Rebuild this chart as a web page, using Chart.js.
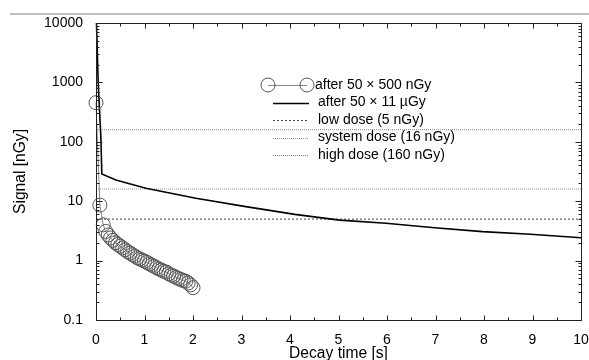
<!DOCTYPE html>
<html>
<head>
<meta charset="utf-8">
<script src="https://cdn.jsdelivr.net/npm/chart.js@4.4.1/dist/chart.umd.min.js"></script>
<style>
  html, body { margin: 0; padding: 0; background: #fff; }
  #wrap { width: 589px; height: 360px; position: relative; }
</style>
</head>
<body>
<div id="wrap"><canvas id="c" width="589" height="360"></canvas></div>
<script>
// ---- data ----
const seriesLabels = ['after 50 \u00d7 500 nGy', 'after 50 \u00d7 11 \u00b5Gy', 'low dose (5 nGy)', 'system dose (16 nGy)', 'high dose (160 nGy)'];

const timeSmallDose = [0, 0.08, 0.15, 0.2, 0.25, 0.3, 0.35, 0.4, 0.45, 0.5, 0.55, 0.6, 0.65, 0.7, 0.75, 0.8, 0.85, 0.9, 0.95, 1.0, 1.05, 1.1, 1.15, 1.2, 1.25, 1.3, 1.35, 1.4, 1.45, 1.5, 1.55, 1.6, 1.65, 1.7, 1.75, 1.8, 1.85, 1.9, 1.95, 2.0];
const signalSmallDose = [455, 8.6, 4.0, 3.1, 2.7, 2.4, 2.2, 2.0, 1.87, 1.75, 1.63, 1.52, 1.42, 1.34, 1.26, 1.19, 1.12, 1.07, 1.02, 0.98, 0.93, 0.88, 0.84, 0.8, 0.76, 0.72, 0.69, 0.66, 0.64, 0.6, 0.57, 0.55, 0.52, 0.5, 0.48, 0.46, 0.45, 0.42, 0.39, 0.35];

const timeLargeDose = [0.01, 0.045, 0.1, 0.12, 0.41, 1.03, 2.06, 3.09, 4.1, 5.02, 5.98, 6.98, 7.97, 8.96, 10];
const signalLargeDose = [10000, 1000, 120, 28.7, 22.7, 16.5, 11.2, 8.1, 6.0, 4.8, 4.25, 3.58, 3.07, 2.77, 2.43];

const referenceTimes = [0, 10];
const lowDose = [5, 5];
const systemDose = [16, 16];
const highDose = [160, 160];

const yTickLabels = ['0.1', '1', '10', '100', '1000', '10000'];
const xTickLabels = ['0', '1', '2', '3', '4', '5', '6', '7', '8', '9', '10'];

const xTitle = 'Decay time [s]';
const yTitle = 'Signal [nGy]';

// ---- build datasets ----
function pts(xs, ys) { return xs.map((x, i) => ({ x: x, y: ys[i] })); }

const FONT = '"Liberation Sans", Arial, Helvetica, sans-serif';

const datasets = [
  { label: seriesLabels[0], data: pts(timeSmallDose, signalSmallDose), borderColor: '#888', borderWidth: 1,
    pointStyle: 'circle', pointRadius: 7, pointBorderColor: '#555', pointBorderWidth: 1,
    pointBackgroundColor: 'rgba(0,0,0,0)', backgroundColor: 'rgba(0,0,0,0)', clip: false },
  { label: seriesLabels[1], data: pts(timeLargeDose, signalLargeDose), borderColor: '#000', borderWidth: 1.6,
    pointRadius: 0, clip: false },
  { label: seriesLabels[2], data: pts(referenceTimes, lowDose), borderColor: '#444', borderWidth: 1,
    borderDash: [2, 2], pointRadius: 0 },
  { label: seriesLabels[3], data: pts(referenceTimes, systemDose), borderColor: '#999', borderWidth: 1,
    borderDash: [1, 1], pointRadius: 0 },
  { label: seriesLabels[4], data: pts(referenceTimes, highDose), borderColor: '#888', borderWidth: 1,
    borderDash: [1, 1], pointRadius: 0 }
];

// ---- frame, inward ticks, legend, top rule ----
const decorPlugin = {
  id: 'decor',
  afterDraw(chart) {
    const ctx = chart.ctx;
    const a = chart.chartArea;
    const xs = chart.scales.x, ys = chart.scales.y;
    ctx.save();
    // grey rule at top
    ctx.strokeStyle = '#aaa';
    ctx.lineWidth = 1.5;
    ctx.beginPath(); ctx.moveTo(10, 14); ctx.lineTo(589, 14); ctx.stroke();

    // frame
    ctx.strokeStyle = '#222';
    ctx.lineWidth = 1;
    ctx.strokeRect(Math.round(a.left) + 0.5, Math.round(a.top) + 0.5,
                   Math.round(a.right - a.left), Math.round(a.bottom - a.top));
    const L = Math.round(a.left) + 0.5, R = Math.round(a.right) + 0.5;
    const T = Math.round(a.top) + 0.5, B = Math.round(a.bottom) + 0.5;
    ctx.beginPath();
    // x ticks
    for (let i = 0; i <= 20; i++) {
      const v = i / 2;
      const len = (i % 2 === 0) ? 5 : 3;
      const px = Math.round(xs.getPixelForValue(v)) + 0.5;
      ctx.moveTo(px, B); ctx.lineTo(px, B - len);
      ctx.moveTo(px, T); ctx.lineTo(px, T + len);
    }
    // y ticks (log)
    for (let e = -1; e <= 4; e++) {
      for (let m = 1; m <= 9; m++) {
        const v = m * Math.pow(10, e);
        if (v > 10000) break;
        const len = (m === 1) ? 6 : 3;
        const py = Math.round(ys.getPixelForValue(v)) + 0.5;
        ctx.moveTo(L, py); ctx.lineTo(L + len, py);
        ctx.moveTo(R, py); ctx.lineTo(R - len, py);
      }
    }
    ctx.stroke();

    // legend
    const rows = [85, 102.5, 120, 137.5, 155];
    ctx.font = '14px ' + FONT;
    ctx.textBaseline = 'middle';
    ctx.fillStyle = '#000';
    chart.data.datasets.forEach((ds, i) => {
      const y = rows[i];
      ctx.save();
      ctx.strokeStyle = ds.borderColor;
      ctx.lineWidth = ds.borderWidth;
      ctx.setLineDash(ds.borderDash || []);
      ctx.beginPath();
      if (i === 0) {
        ctx.moveTo(268, Math.round(y) + 0.5); ctx.lineTo(307, Math.round(y) + 0.5);
        ctx.stroke();
        ctx.strokeStyle = ds.pointBorderColor;
        ctx.beginPath(); ctx.arc(268, y, 7, 0, Math.PI * 2); ctx.stroke();
        ctx.beginPath(); ctx.arc(307, y, 7, 0, Math.PI * 2); ctx.stroke();
      } else {
        ctx.moveTo(273, Math.round(y) + 0.5); ctx.lineTo(309, Math.round(y) + 0.5);
        ctx.stroke();
      }
      ctx.restore();
      ctx.fillText(ds.label, i === 0 ? 315 : 318, y);
    });
    ctx.restore();
  }
};

new Chart(document.getElementById('c'), {
  type: 'line',
  data: { datasets: datasets },
  plugins: [decorPlugin],
  options: {
    responsive: false,
    animation: false,
    devicePixelRatio: 1,
    layout: { padding: { left: 0, right: 7, top: 23, bottom: 0 } },
    plugins: { legend: { display: false }, tooltip: { enabled: false } },
    elements: { line: { tension: 0 } },
    scales: {
      x: {
        type: 'linear', min: 0, max: 10,
        grid: { display: false },
        border: { display: false },
        ticks: {
          stepSize: 1, padding: 4, color: '#000', font: { family: FONT, size: 14 },
          maxRotation: 0, autoSkip: false,
          callback: (v) => xTickLabels[Math.round(v)] ?? ''
        },
        title: { display: true, text: xTitle, color: '#000', font: { family: FONT, size: 15.6 }, padding: { top: 0, bottom: -3 } },
        afterFit(scale) { scale.height = 40; scale.paddingLeft = 0; scale.paddingRight = 0; }
      },
      y: {
        type: 'logarithmic', min: 0.1, max: 10000,
        grid: { display: false },
        border: { display: false },
        ticks: {
          padding: 5, color: '#000', font: { family: FONT, size: 14 }, autoSkip: false,
          callback: (v) => {
            const e = Math.log10(v);
            if (Math.abs(e - Math.round(e)) < 1e-9) return yTickLabels[Math.round(e) + 1] ?? '';
            return '';
          }
        },
        title: { display: true, text: yTitle, color: '#000', font: { family: FONT, size: 15.6 }, padding: { top: 11, bottom: 0 } },
        afterFit(scale) { scale.width = 96; scale.paddingTop = 0; scale.paddingBottom = 0; }
      }
    }
  }
});
</script>
</body>
</html>
